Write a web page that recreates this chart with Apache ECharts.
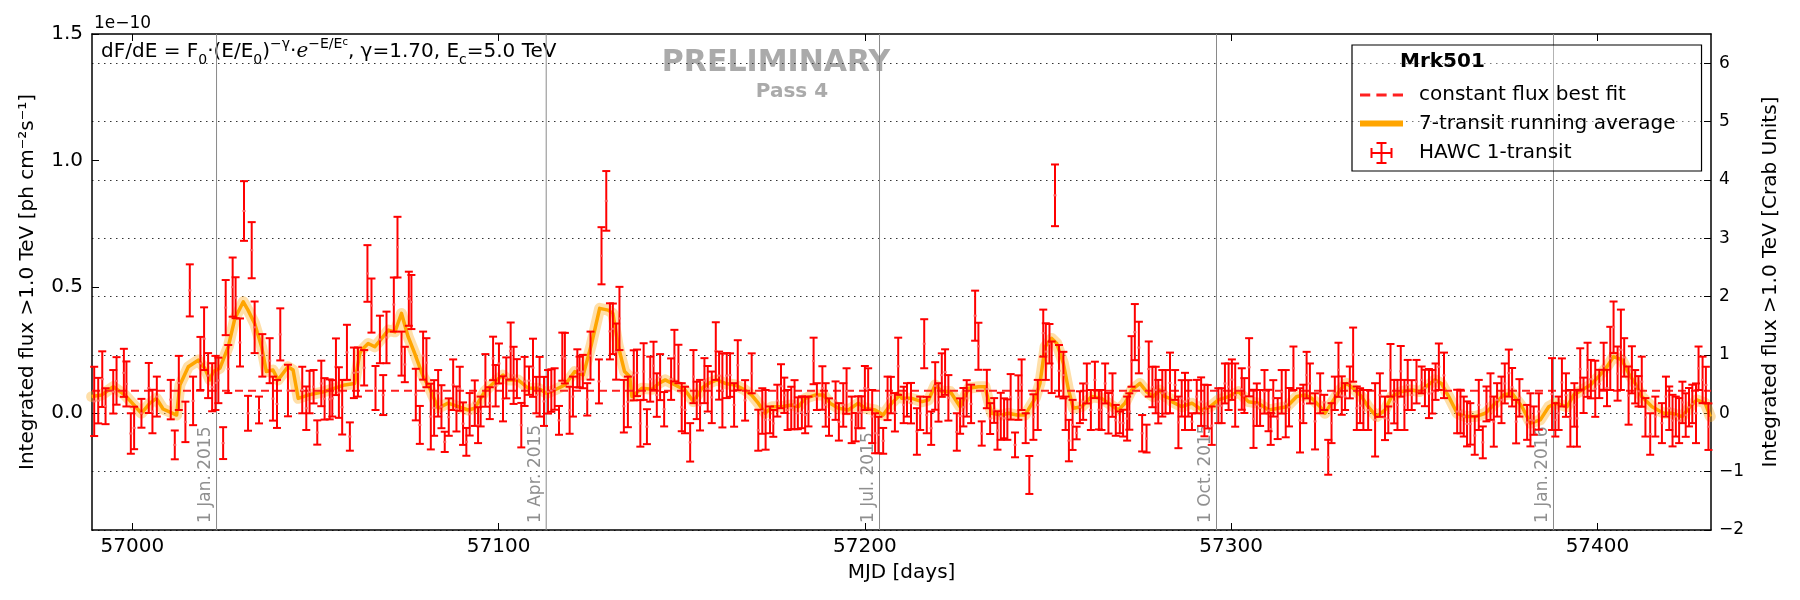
<!DOCTYPE html>
<html>
<head>
<meta charset="utf-8">
<script src="https://cdn.jsdelivr.net/npm/echarts@6/dist/echarts.min.js"></script>
<style>html,body{margin:0;padding:0;background:#fff}#c{width:1800px;height:600px}</style>
</head>
<body>
<div id="c"></div>
<script>
// ---------- DATA (flux in units of 1e-10 ph cm^-2 s^-1) ----------
const hawc = [
[56989.6,0.047,0.137],[56990.7,0.05,0.09],[56991.8,0.135,0.11],[56992.7,0.028,0.071],[56994.8,0.085,0.086],[56995.7,0.128,0.094],[56997.7,0.16,0.095],[56998.4,0.116,0.089],[56999.6,-0.08,0.08],[57000.5,-0.058,0.084],[57002.5,0.0,0.057],[57004.5,0.1,0.099],[57005.5,0.007,0.086],[57006.7,0.066,0.079],[57010.5,0.054,0.078],[57011.6,-0.125,0.057],[57012.7,0.12,0.107],[57014.5,-0.034,0.08],[57015.7,0.486,0.103],[57016.6,0.049,0.096],[57018.6,0.197,0.105],[57019.6,0.295,0.124],[57020.7,0.149,0.089],[57021.8,0.103,0.095],[57022.7,0.12,0.107],[57023.5,0.13,0.09],[57024.8,-0.118,0.063],[57025.5,0.418,0.109],[57026.2,0.175,0.095],[57027.4,0.499,0.117],[57028.2,0.457,0.081],[57029.4,0.28,0.095],[57030.5,0.8,0.118],[57031.6,0.0,0.069],[57032.6,0.645,0.111],[57033.4,0.34,0.102],[57034.6,0.013,0.053],[57035.5,0.229,0.084],[57037.5,0.208,0.089],[57038.4,0.058,0.087],[57039.5,0.037,0.095],[57040.4,0.312,0.103],[57042.5,0.09,0.102],[57046.4,0.092,0.092],[57047.5,0.02,0.086],[57048.4,0.084,0.084],[57049.5,0.105,0.066],[57050.5,-0.076,0.048],[57051.6,0.118,0.09],[57052.5,0.057,0.082],[57053.9,0.055,0.079],[57054.6,0.059,0.072],[57055.6,0.184,0.112],[57056.4,0.082,0.1],[57057.3,0.024,0.108],[57058.6,0.241,0.109],[57059.4,-0.092,0.056],[57060.5,0.16,0.1],[57061.6,0.163,0.097],
[57063.3,0.18,0.07],[57064.2,0.553,0.112],[57065.3,0.426,0.107],[57066.4,0.1,0.087],[57067.6,0.292,0.094],[57068.5,0.072,0.079],[57069.4,0.3,0.102],[57071.4,0.43,0.107],[57072.4,0.657,0.12],[57073.5,0.236,0.087],[57074.4,0.193,0.07],[57075.5,0.453,0.107],[57076.2,0.44,0.107],[57077.4,0.074,0.102],[57078.5,-0.046,0.075],[57079.4,0.228,0.095],[57080.3,0.2,0.097],[57081.5,-0.013,0.13],[57082.4,0.021,0.11],[57083.5,0.079,0.092],[57084.4,0.026,0.085],[57085.3,-0.113,0.04],[57086.4,-0.015,0.074],[57087.6,0.113,0.1],[57088.5,0.017,0.089],[57089.4,0.097,0.087],[57090.3,-0.041,0.084],[57091.2,-0.113,0.055],[57092.1,-0.004,0.084],[57093.5,0.04,0.09],[57094.4,-0.047,0.071],[57095.1,0.007,0.059],[57096.4,0.13,0.104],[57097.6,0.04,0.063],[57098.5,0.217,0.086],[57099.2,0.109,0.082],[57100.1,0.197,0.079],[57101.2,0.057,0.089],[57102.1,0.14,0.081],[57103.3,0.246,0.113],[57104.1,0.15,0.113],[57105.0,0.137,0.077],[57106.2,-0.047,0.088],[57107.1,0.126,0.097],[57108.3,0.129,0.056],[57109.4,0.18,0.115],[57110.3,0.072,0.072],[57111.2,0.105,0.118],[57112.4,0.047,0.097],[57113.5,0.085,0.086],[57114.4,0.09,0.084],[57115.3,0.096,0.082],[57116.5,-0.028,0.057],[57117.4,0.224,0.095],[57118.1,0.218,0.1],[57119.4,0.012,0.093],[57120.3,0.066,0.079],[57121.5,0.178,0.075],[57122.1,0.163,0.061],[57123.0,0.165,0.066],[57124.2,0.055,0.064],[57125.1,0.228,0.095],[57127.4,0.126,0.087],[57128.1,0.623,0.113],[57129.4,0.84,0.118],[57130.4,0.324,0.111],[57131.2,0.334,0.1],[57132.1,0.244,0.111],[57133.0,0.375,0.125],[57134.2,0.028,0.104],[57135.3,0.045,0.1],
[57136.9,0.15,0.099],[57137.8,0.16,0.092],[57138.7,-0.04,0.092],[57139.6,0.165,0.112],[57140.5,-0.053,0.069],[57141.4,0.135,0.089],[57142.3,0.188,0.095],[57143.2,0.072,0.086],[57144.1,0.143,0.091],[57145.2,0.016,0.068],[57147.1,0.135,0.082],[57148.0,0.228,0.102],[57149.1,0.195,0.076],[57150.0,0.024,0.095],[57150.9,0.013,0.092],[57152.3,-0.115,0.076],[57153.2,0.145,0.105],[57154.1,0.051,0.074],[57155.0,0.032,0.1],[57156.2,0.129,0.089],[57157.1,0.097,0.09],[57158.2,0.063,0.102],[57159.3,0.246,0.114],[57160.2,0.149,0.095],[57161.1,0.09,0.146],[57162.3,0.149,0.089],[57163.2,0.151,0.086],[57164.3,0.033,0.086],[57165.3,0.19,0.099],[57167.3,0.051,0.08],[57169.1,0.158,0.079],[57170.9,-0.067,0.081],[57172.0,0.009,0.09],[57172.9,-0.026,0.118],[57174.1,-0.026,0.053],[57175.0,-0.04,0.053],[57176.1,0.05,0.063],[57177.1,0.107,0.087],[57178.0,0.071,0.07],[57178.9,0.013,0.079],[57179.9,0.021,0.084],[57180.8,0.034,0.097],[57181.7,0.0,0.063],[57182.8,0.004,0.063],[57183.7,-0.007,0.072],[57184.6,0.007,0.059],[57186.0,0.207,0.092],[57186.9,0.066,0.053],[57188.4,0.1,0.086],[57189.3,0.033,0.086],[57190.2,-0.015,0.074],[57192.0,0.05,0.076],[57192.9,-0.034,0.074],[57194.1,0.033,0.086],[57195.0,0.088,0.09],[57196.4,-0.026,0.092],[57197.5,-0.055,0.056],[57198.2,0.004,0.063],[57199.1,0.004,0.063],[57200.0,0.1,0.087],[57200.9,0.096,0.082],[57202.0,-0.013,0.105],[57202.8,-0.079,0.079],[57203.7,-0.086,0.072],[57205.0,-0.109,0.051],[57206.2,0.059,0.086],[57207.1,0.072,0.072],[57208.2,0.004,0.076],[57209.1,0.186,0.113],
[57210.6,0.033,0.072],[57211.5,0.053,0.066],[57212.6,0.04,0.08],[57214.2,-0.072,0.092],[57215.1,0.0,0.066],[57216.2,0.275,0.097],[57216.9,-0.007,0.072],[57218.1,-0.059,0.066],[57219.2,0.108,0.094],[57220.1,0.043,0.076],[57221.0,0.151,0.086],[57221.9,0.163,0.09],[57222.8,0.061,0.09],[57225.1,-0.074,0.074],[57226.0,-0.011,0.07],[57226.9,0.024,0.076],[57227.8,0.059,0.072],[57229.0,0.037,0.076],[57230.1,0.386,0.099],[57231.0,0.265,0.093],[57231.9,-0.08,0.048],[57233.3,0.096,0.076],[57234.2,-0.021,0.061],[57235.3,0.011,0.049],[57236.2,-0.068,0.076],[57237.1,-0.012,0.093],[57238.0,-0.02,0.079],[57238.9,-0.025,0.08],[57239.8,0.065,0.09],[57241.0,-0.125,0.049],[57241.9,0.062,0.088],[57242.8,0.113,0.1],[57243.9,-0.059,0.059],[57244.9,-0.244,0.075],[57246.0,-0.015,0.09],[57247.2,0.033,0.099],[57248.7,0.317,0.093],[57249.4,0.244,0.112],[57250.4,0.275,0.078],[57251.0,0.182,0.102],[57251.9,0.862,0.122],[57253.0,0.168,0.102],[57254.2,0.151,0.092],[57254.8,0.0,0.066],[57255.7,-0.108,0.082],[57256.7,-0.046,0.099],[57257.8,-0.078,0.025],[57258.7,0.024,0.063],[57259.6,0.046,0.072],[57260.6,0.118,0.079],[57261.7,0.013,0.079],[57262.8,0.132,0.072],[57263.9,0.014,0.078],[57264.6,0.013,0.079],[57265.6,0.118,0.079],[57266.5,0.0,0.08],[57267.6,0.072,0.086],[57268.5,-0.028,0.061],[57269.6,-0.036,0.043],[57270.5,-0.039,0.053],[57271.6,-0.021,0.087],[57272.2,0.007,0.072],[57272.8,0.205,0.1],[57273.7,0.321,0.111],[57274.8,0.26,0.102],[57275.7,-0.079,0.072],[57276.9,-0.1,0.055],[57277.5,0.175,0.109],[57278.5,0.104,0.08],[57279.4,0.092,0.092],[57280.1,0.046,0.086],[57281.2,0.079,0.092],[57282.1,0.085,0.086],[57283.3,0.12,0.12],
[57284.7,0.112,0.059],[57285.6,-0.036,0.102],[57286.5,0.059,0.072],[57287.4,0.047,0.113],[57288.3,0.059,0.072],[57289.3,-0.033,0.033],[57290.6,0.066,0.066],[57291.8,0.046,0.096],[57292.7,0.011,0.102],[57293.6,0.026,0.086],[57294.7,-0.049,0.076],[57296.5,0.03,0.069],[57297.4,0.03,0.069],[57298.3,0.118,0.079],[57299.3,0.105,0.092],[57300.2,0.133,0.08],[57301.1,0.072,0.125],[57302.9,0.096,0.082],[57303.6,0.07,0.069],[57304.9,0.182,0.115],[57306.1,-0.022,0.115],[57307.0,0.034,0.084],[57307.9,0.021,0.071],[57309.1,0.085,0.086],[57310.2,0.011,0.082],[57310.8,-0.062,0.063],[57311.5,0.059,0.072],[57312.7,-0.021,0.081],[57313.8,0.085,0.086],[57314.9,0.038,0.133],[57315.8,0.024,0.076],[57317.0,0.178,0.086],[57318.8,-0.028,0.127],[57319.7,0.037,0.076],[57320.6,0.151,0.092],[57321.5,0.118,0.079],[57322.9,-0.032,0.111],[57324.3,0.079,0.079],[57325.4,0.043,0.03],[57326.5,-0.174,0.069],[57327.4,-0.039,0.079],[57328.3,0.079,0.066],[57329.3,0.172,0.107],[57330.2,0.07,0.076],[57331.1,0.066,0.053],[57332.4,0.122,0.063],[57333.3,0.232,0.107],[57334.3,0.02,0.086],[57335.2,0.03,0.069],[57336.1,0.013,0.079],[57337.4,0.013,0.079],[57339.3,-0.026,0.145],[57340.6,0.072,0.086],[57342.0,-0.02,0.086],[57342.9,-0.026,0.053],[57343.5,0.17,0.104],[57344.5,0.046,0.086],[57345.4,0.033,0.099],[57346.3,0.166,0.1],[57347.3,0.033,0.099],[57348.2,0.112,0.099],[57349.3,0.072,0.059],[57350.6,0.125,0.086],[57352.0,0.132,0.053],[57352.9,0.1,0.072],[57354.0,0.078,0.097],[57354.9,0.085,0.086],[57355.8,0.125,0.072],[57356.7,0.184,0.092],
[57358.1,0.15,0.09],[57361.7,0.007,0.086],[57362.6,0.007,0.086],[57363.5,-0.013,0.079],[57364.4,-0.042,0.089],[57365.3,-0.042,0.082],[57366.5,-0.088,0.076],[57367.6,0.033,0.099],[57368.7,-0.115,0.063],[57369.7,0.037,0.069],[57370.8,0.066,0.092],[57371.7,-0.033,0.099],[57372.6,0.053,0.066],[57373.8,0.053,0.092],[57374.7,0.118,0.079],[57375.8,0.159,0.093],[57376.7,0.103,0.076],[57377.8,-0.033,0.086],[57378.7,0.061,0.074],[57380.8,-0.036,0.069],[57381.7,-0.026,0.105],[57382.6,-0.029,0.056],[57384.0,0.007,0.072],[57387.6,0.076,0.142],[57388.5,-0.026,0.066],[57389.4,0.0,0.066],[57390.3,0.122,0.095],[57391.4,0.072,0.086],[57392.6,-0.02,0.112],[57393.7,0.033,0.086],[57394.4,-0.02,0.112],[57395.3,0.175,0.082],[57396.2,0.071,0.07],[57397.3,0.172,0.107],[57398.2,0.135,0.076],[57399.4,0.097,0.111],[57400.5,0.116,0.056],[57401.7,0.186,0.093],[57402.6,0.1,0.072],[57403.5,0.217,0.125],[57404.4,0.34,0.102],[57405.5,0.157,0.107],[57406.4,0.251,0.159],[57407.3,0.221,0.076],[57408.5,0.07,0.115],[57409.4,0.172,0.093],[57410.3,0.105,0.066],[57411.2,0.087,0.06],[57412.1,0.125,0.099],[57413.1,-0.016,0.076],[57414.4,-0.082,0.082],[57415.8,-0.013,0.079],[57417.6,-0.039,0.079],[57418.7,0.066,0.079],[57419.6,0.02,0.086],[57420.5,-0.029,0.102],[57421.4,-0.013,0.079],[57422.3,-0.029,0.089],[57423.2,0.043,0.082],[57424.1,-0.007,0.086],[57425.0,0.024,0.076],[57425.9,0.037,0.076],[57426.9,0.0,0.118],[57427.6,0.178,0.086],[57428.7,0.132,0.092],[57429.6,0.112,0.072],[57430.3,-0.053,0.092]
];

const runAvg = [
[56988.9,0.066],[56991.6,0.072],[56994.8,0.105],[56998.0,0.072],[57002.5,0.0],[57004.8,0.04],[57006.6,0.059],[57008.4,0.017],[57012.1,-0.007],[57013.0,0.112],[57015.3,0.184],[57018.0,0.21],[57019.8,0.178],[57021.2,0.132],[57022.1,0.165],[57023.9,0.178],[57026.2,0.263],[57028.0,0.375],[57030.3,0.441],[57031.6,0.408],[57033.4,0.355],[57035.3,0.263],[57036.6,0.165],[57038.4,0.171],[57039.8,0.132],[57042.5,0.184],[57043.9,0.171],[57045.3,0.059],[57048.0,0.072],[57052.5,0.086],[57055.3,0.099],[57058.0,0.112],[57060.7,0.118],[57062.1,0.237],
[57062.6,0.25],[57064.4,0.276],[57066.2,0.263],[57068.1,0.296],[57069.9,0.329],[57071.7,0.322],[57073.5,0.395],[57075.3,0.303],[57077.1,0.237],[57079.4,0.145],[57081.2,0.099],[57083.5,0.02],[57086.2,0.04],[57089.0,0.026],[57091.7,0.013],[57093.5,0.02],[57096.2,0.086],[57099.0,0.125],[57101.2,0.151],[57102.6,0.132],[57105.3,0.132],[57108.1,0.099],[57110.8,0.099],[57113.1,0.079],[57115.3,0.092],[57118.1,0.112],[57120.8,0.165],[57123.1,0.151],[57125.3,0.27],[57127.6,0.415],[57129.9,0.408],[57131.2,0.395],[57132.6,0.27],[57134.4,0.165],[57135.8,0.145],
[57136.4,0.066],[57139.1,0.099],[57141.9,0.095],[57143.7,0.118],[57145.5,0.132],[57148.2,0.112],[57150.9,0.092],[57153.2,0.046],[57155.5,0.099],[57157.3,0.118],[57159.6,0.132],[57161.9,0.118],[57164.6,0.112],[57167.3,0.092],[57169.1,0.072],[57170.9,0.04],[57172.8,0.0],[57174.6,0.026],[57177.3,0.026],[57180.0,0.033],[57181.9,0.026],[57183.7,0.059],[57186.4,0.072],[57188.7,0.072],[57190.5,0.04],[57192.8,0.02],[57195.5,0.013],[57198.2,0.04],[57200.0,0.02],[57202.8,0.013],[57205.0,-0.007],[57207.3,0.04],[57209.6,0.072],
[57210.1,0.059],[57212.8,0.059],[57215.6,0.046],[57217.4,0.053],[57219.2,0.112],[57221.0,0.086],[57223.3,0.086],[57226.0,0.026],[57228.3,0.099],[57231.0,0.105],[57232.8,0.105],[57234.6,0.0],[57237.4,-0.007],[57239.2,0.0],[57241.5,-0.007],[57243.7,-0.007],[57246.5,0.059],[57247.8,0.118],[57249.2,0.263],[57251.0,0.296],[57252.4,0.276],[57254.2,0.197],[57255.6,0.092],[57256.9,0.02],[57259.2,0.026],[57261.9,0.066],[57264.6,0.059],[57266.5,0.04],[57269.2,0.013],[57271.0,0.04],[57272.8,0.092],[57275.1,0.118],[57276.9,0.086],[57278.7,0.066],[57280.5,0.092],[57281.9,0.066],[57283.3,0.059],
[57283.8,0.046],[57286.5,0.026],[57289.3,0.04],[57292.0,0.013],[57294.3,0.026],[57296.5,0.053],[57299.3,0.066],[57302.0,0.086],[57304.7,0.046],[57307.4,0.04],[57310.2,0.013],[57312.9,0.02],[57315.2,0.026],[57317.9,0.066],[57320.2,0.072],[57322.0,0.059],[57324.3,0.026],[57325.6,0.0],[57327.4,0.04],[57329.7,0.092],[57331.5,0.118],[57333.3,0.099],[57335.6,0.066],[57337.4,0.026],[57339.7,-0.013],[57342.0,0.013],[57343.8,0.066],[57346.5,0.086],[57349.3,0.092],[57351.5,0.086],[57353.8,0.112],[57355.6,0.132],[57357.4,0.118],
[57359.4,0.066],[57361.7,0.0],[57364.0,-0.013],[57366.7,-0.013],[57369.4,0.0],[57372.1,0.04],[57374.4,0.072],[57376.7,0.079],[57379.4,0.026],[57381.7,-0.039],[57384.4,-0.026],[57386.7,0.026],[57388.5,0.04],[57391.7,0.026],[57393.5,0.072],[57395.8,0.092],[57398.1,0.112],[57400.3,0.145],[57402.6,0.184],[57404.4,0.224],[57406.7,0.211],[57408.5,0.158],[57410.3,0.118],[57412.1,0.066],[57414.9,0.026],[57418.1,0.0],[57420.3,0.0],[57423.1,-0.013],[57425.3,0.026],[57427.1,0.053],[57429.4,0.04],[57430.8,-0.013]
];

const constFit = 0.089;               // constant flux best fit (1e-10)
const dateLines = [57023, 57113, 57204, 57296, 57388];
const dateLabels = ['1 Jan. 2015', '1 Apr. 2015', '1 Jul. 2015', '1 Oct. 2015', '1 Jan. 2016'];
const xTicks = [57000, 57100, 57200, 57300, 57400];
const fluxTicks = [0, 0.5, 1.0, 1.5];
const crabTicks = [-2, -1, 0, 1, 2, 3, 4, 5, 6];
const xRange = [56989, 57431];
const fluxRange = [-0.4616, 1.5];
const crabRange = [-2, 6.503];

// ---------- CHART ----------
const FONT = 'DejaVu Sans';
const chart = echarts.init(document.getElementById('c'), null, {renderer: 'canvas'});
const minus = v => (v < 0 ? '\u2212' + Math.abs(v) : String(v));

const axisLineStyle = {show: true, onZero: false, lineStyle: {color: '#000', width: 1.5}};
const tickStyle = {show: true, inside: true, length: 7, lineStyle: {color: '#000', width: 1}};

const option = {
  animation: false,
  textStyle: {fontFamily: FONT},
  grid: {left: 92, right: 89, top: 34, bottom: 70, containLabel: false},
  legend: {
    orient: 'vertical', left: 1352, top: 45,
    padding: [40, 26, 7, 8],
    itemWidth: 43, itemHeight: 22, itemGap: 8.5,
    selectedMode: false,
    borderColor: '#000', borderWidth: 1.2, backgroundColor: 'rgba(255,255,255,0.35)',
    textStyle: {fontSize: 20, color: '#000', fontFamily: FONT, padding: [0, 0, 0, 11]},
    data: [
      {name: 'constant flux best fit', icon: 'path://M0,0h10v3h-10z M16,0h10v3h-10z M32,0h10v3h-10z', itemStyle: {color: '#ff2020'}},
      {name: '7-transit running average', icon: 'path://M0,0h43v6h-43z', itemStyle: {color: '#ffa500'}},
      {name: 'HAWC 1-transit', icon: 'path://M10,0h2v22h-2z M0,10h22v2h-22z M6,0h10v2h-10z M6,20h10v2h-10z M0,6h2v10h-2z M20,6h2v10h-2z', itemStyle: {color: '#ff0000'}}
    ]
  },
  graphic: [
    {type: 'text', left: 94, top: 15, style: {text: '1e\u221210', font: '17px "DejaVu Sans"', fill: '#000'}},
    {type: 'text', left: 101, top: 37, style: {
      text: 'dF/dE = F{s|0}·(E/E{s|0}){u|\u2212\u03b3}·{i|e}{u|\u2212E/E}{us|c}, \u03b3=1.70, E{s|c}=5.0 TeV',
      font: '20px "DejaVu Sans"', fill: '#000', lineHeight: 26,
      rich: {
        s: {fontSize: 14, verticalAlign: 'bottom', lineHeight: 26, fontFamily: FONT},
        u: {fontSize: 14, verticalAlign: 'top', lineHeight: 26, fontFamily: FONT},
        us: {fontSize: 10, verticalAlign: 'top', lineHeight: 30, fontFamily: FONT},
        i: {fontSize: 20, fontStyle: 'italic', fontFamily: 'DejaVu Serif', lineHeight: 26}
      }
    }},
    {type: 'text', x: 776, y: 63, style: {text: 'PRELIMINARY', font: 'bold 30px "DejaVu Sans"', fill: '#aaaaaa', align: 'center', verticalAlign: 'middle'}},
    {type: 'text', x: 792, y: 92, style: {text: 'Pass 4', font: 'bold 20px "DejaVu Sans"', fill: '#aaaaaa', align: 'center', verticalAlign: 'middle'}},
    {type: 'text', left: 1400, top: 52, z: 100, style: {text: 'Mrk501', font: 'bold 20px "DejaVu Sans"', fill: '#000'}}
  ],
  xAxis: [
    {
      type: 'value', min: xRange[0], max: xRange[1], position: 'bottom',
      name: 'MJD [days]', nameLocation: 'middle', nameGap: 33,
      nameTextStyle: {fontSize: 20, color: '#000', fontFamily: FONT},
      axisLine: axisLineStyle,
      axisTick: Object.assign({customValues: xTicks}, tickStyle),
      axisLabel: {customValues: xTicks, fontSize: 20, color: '#000', margin: 7, formatter: v => String(v)},
      splitLine: {show: false}
    },
    {
      type: 'value', min: xRange[0], max: xRange[1], position: 'top',
      axisLine: axisLineStyle,
      axisTick: Object.assign({customValues: xTicks}, tickStyle),
      axisLabel: {show: false},
      splitLine: {show: false}
    }
  ],
  yAxis: [
    {
      type: 'value', min: fluxRange[0], max: fluxRange[1], position: 'left',
      name: 'Integrated flux >1.0 TeV [ph cm\u207b\u00b2s\u207b\u00b9]', nameLocation: 'middle', nameGap: 54,
      nameTextStyle: {fontSize: 20, color: '#000', fontFamily: FONT},
      axisLine: axisLineStyle,
      axisTick: Object.assign({customValues: fluxTicks}, tickStyle),
      axisLabel: {customValues: fluxTicks, fontSize: 20, color: '#000', margin: 9, formatter: v => v.toFixed(1)},
      splitLine: {show: false}
    },
    {
      type: 'value', min: crabRange[0], max: crabRange[1], interval: 1, position: 'right',
      name: 'Integrated flux >1.0 TeV [Crab Units]', nameLocation: 'middle', nameGap: 50, nameRotate: 90,
      nameTextStyle: {fontSize: 20, color: '#000', fontFamily: FONT},
      axisLine: axisLineStyle,
      axisTick: Object.assign({customValues: crabTicks}, tickStyle),
      axisLabel: {customValues: crabTicks, fontSize: 17, color: '#000', margin: 8, formatter: minus},
      splitLine: {show: true, lineStyle: {color: '#333', width: 1, type: [1.5, 4.5]}}
    }
  ],
  series: [
    {
      name: 'dates', type: 'custom', xAxisIndex: 0, yAxisIndex: 0, z: 1, silent: true,
      data: dateLines.map((d, i) => [d, dateLabels[i]]),
      encode: {x: 0},
      renderItem: function (params, api) {
        const x = api.value(0);
        const top = api.coord([x, fluxRange[1]]);
        const bot = api.coord([x, fluxRange[0]]);
        return {type: 'group', children: [
          {type: 'line', shape: {x1: top[0], y1: top[1], x2: bot[0], y2: bot[1]}, style: {stroke: '#8a8a8a', lineWidth: 1}},
          {type: 'text', x: bot[0] - 2, y: bot[1] - 7, rotation: Math.PI / 2,
           style: {text: dateLabels[params.dataIndex], fill: '#8f8f8f', font: '17px "DejaVu Sans"', align: 'left', verticalAlign: 'bottom'}}
        ]};
      }
    },
    {
      name: 'runAvgBand', type: 'line', xAxisIndex: 0, yAxisIndex: 0, z: 2, silent: true,
      data: runAvg, showSymbol: false, symbol: 'none', smooth: false,
      lineStyle: {color: 'rgba(255,170,30,0.38)', width: 11, join: 'round', cap: 'round'},
      itemStyle: {color: 'rgba(255,170,30,0.38)'}
    },
    {
      name: '7-transit running average', type: 'line', xAxisIndex: 0, yAxisIndex: 0, z: 3, silent: true,
      data: runAvg, showSymbol: false, symbol: 'none',
      lineStyle: {color: '#ffa500', width: 3.5, join: 'round'},
      itemStyle: {color: '#ffa500'}
    },
    {
      name: 'constant flux best fit', type: 'line', xAxisIndex: 0, yAxisIndex: 0, z: 4, silent: true,
      data: [[xRange[0], constFit], [xRange[1], constFit]], showSymbol: false, symbol: 'none',
      lineStyle: {color: '#ff2020', width: 2, type: [8, 5]},
      itemStyle: {color: '#ff2020'}
    },
    {
      name: 'HAWC 1-transit', type: 'custom', xAxisIndex: 0, yAxisIndex: 0, z: 5, silent: true,
      data: hawc,
      encode: {x: 0, y: 1},
      itemStyle: {color: '#ff0000'},
      renderItem: function (params, api) {
        const x = api.value(0), y = api.value(1), e = api.value(2);
        const t = api.coord([x, y + e]);
        const b = api.coord([x, y - e]);
        const c = api.coord([x, y]);
        const hw = 4;
        const st = {stroke: '#ff0000', lineWidth: 2};
        return {type: 'group', children: [
          {type: 'line', shape: {x1: t[0], y1: t[1], x2: b[0], y2: b[1]}, style: st},
          {type: 'line', shape: {x1: t[0] - hw, y1: t[1], x2: t[0] + hw, y2: t[1]}, style: st},
          {type: 'line', shape: {x1: b[0] - hw, y1: b[1], x2: b[0] + hw, y2: b[1]}, style: st},
          {type: 'line', shape: {x1: c[0] - 1.5, y1: c[1], x2: c[0] + 1.5, y2: c[1]}, style: {stroke: '#ff6060', lineWidth: 2}}
        ]};
      }
    }
  ]
};
chart.setOption(option);
</script>
</body>
</html>
